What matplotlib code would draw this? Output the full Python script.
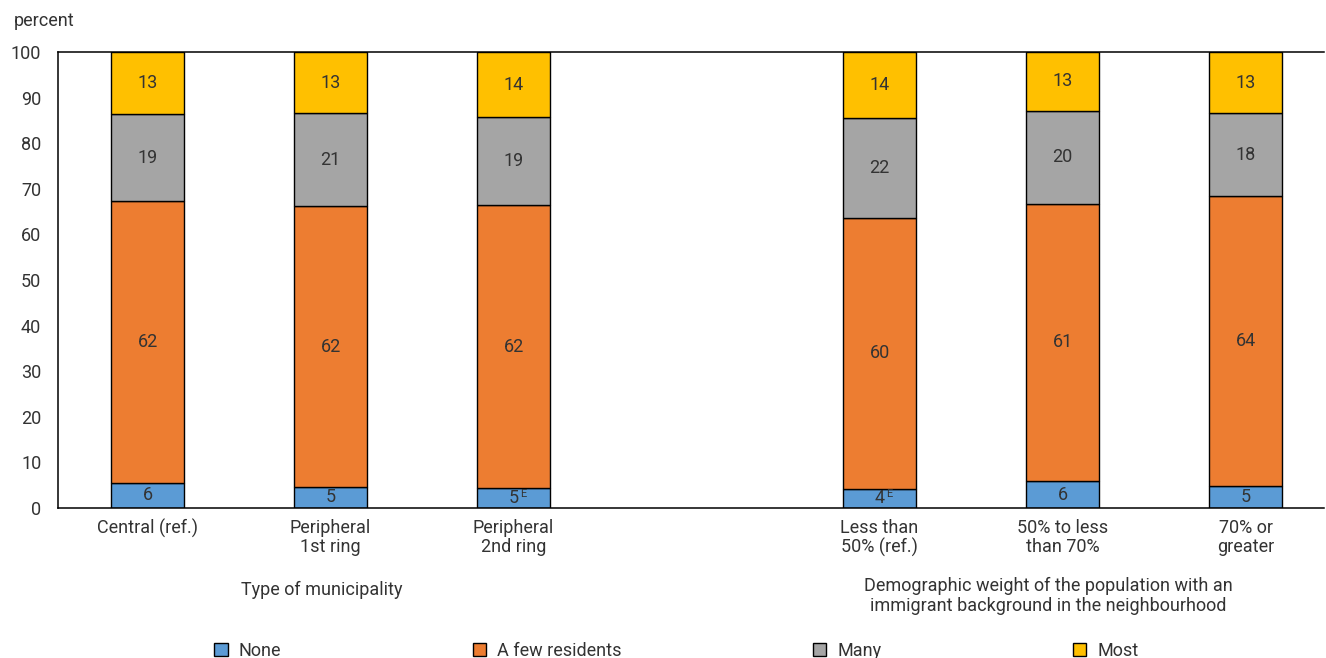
import matplotlib
matplotlib.use('Agg')
import matplotlib.pyplot as plt
from matplotlib.patches import Patch

plt.rcParams['font.family'] = ['Roboto', 'DejaVu Sans']
plt.rcParams['font.size'] = 13

categories = ['Central (ref.)', 'Peripheral\n1st ring', 'Peripheral\n2nd ring',
              'Less than\n50% (ref.)', '50% to less\nthan 70%', '70% or\ngreater']
positions = [0, 1, 2, 4, 5, 6]
series_names = ['None', 'A few residents', 'Many', 'Most']
none_vals = [5.5, 4.6, 4.4, 4.2, 5.9, 4.8]
few_vals = [61.8, 61.6, 62.0, 59.4, 60.8, 63.6]
many_vals = [19.1, 20.4, 19.3, 21.9, 20.4, 18.2]
most_vals = [13.6, 13.4, 14.3, 14.5, 12.9, 13.4]
none_lbl = ['6', '5', '5', '4', '6', '5']
few_lbl = ['62', '62', '62', '60', '61', '64']
many_lbl = ['19', '21', '19', '22', '20', '18']
most_lbl = ['13', '13', '14', '14', '13', '13']
flag_e = [False, False, True, True, False, False]  # "E" = use with caution
groups = ['Type of municipality',
          'Demographic weight of the population with an\nimmigrant background in the neighbourhood']

colors = ['#5B9BD5', '#ED7D31', '#A5A5A5', '#FFC000']
txt = '#333333'

fig = plt.figure(figsize=(13.26, 6.58), dpi=100)
ax = fig.add_axes([0.0437, 0.228, 0.955, 0.693])

bottom = [0] * len(positions)
all_vals = [none_vals, few_vals, many_vals, most_vals]
all_lbls = [none_lbl, few_lbl, many_lbl, most_lbl]
for vals, lbls, c in zip(all_vals, all_lbls, colors):
    ax.bar(positions, vals, width=0.4, bottom=bottom, color=c, edgecolor='black', linewidth=1.0)
    for i, (p, v, l) in enumerate(zip(positions, vals, lbls)):
        ax.text(p, bottom[i] + v / 2, l, ha='center', va='center', fontsize=13, color=txt)
    bottom = [b + v for b, v in zip(bottom, vals)]

# superscript E markers on the "None" values
for p, v, f in zip(positions, none_vals, flag_e):
    if f:
        ax.annotate('E', xy=(p, v / 2), xytext=(4.5, 3), textcoords='offset points',
                    fontsize=8, color=txt, va='center', ha='left')

ax.set_xlim(-0.49, 6.43)
ax.set_ylim(0, 100)
ax.set_yticks(range(0, 101, 10))
ax.set_xticks(positions)
ax.set_xticklabels(categories, color=txt, linespacing=1.05)
ax.tick_params(axis='both', length=0, labelsize=13, colors=txt)
ax.tick_params(axis='y', pad=12)
ax.tick_params(axis='x', pad=8)
ax.spines['right'].set_visible(False)
for s in ['left', 'top', 'bottom']:
    ax.spines[s].set_linewidth(1.1)

ax.text(0.95, -17.9, groups[0], ha='center', va='center', fontsize=13, color=txt, clip_on=False)
ax.text(4.92, -19.2, groups[1], ha='center', va='center', fontsize=13, color=txt,
        linespacing=1.15, clip_on=False)

fig.text(0.01, 0.968, 'percent', fontsize=13, color=txt, va='center')

handles = [Patch(facecolor=c, edgecolor='black', linewidth=1.0, label=n)
           for n, c in zip(series_names, colors)]
fig.legend(handles=handles, loc='lower center', bbox_to_anchor=(0.51, -0.028), ncol=4,
           frameon=False, fontsize=13, handlelength=0.75, handleheight=0.75,
           handletextpad=0.6, columnspacing=10.6, labelcolor=txt)

fig.savefig('out.png', dpi=100, facecolor='white')
